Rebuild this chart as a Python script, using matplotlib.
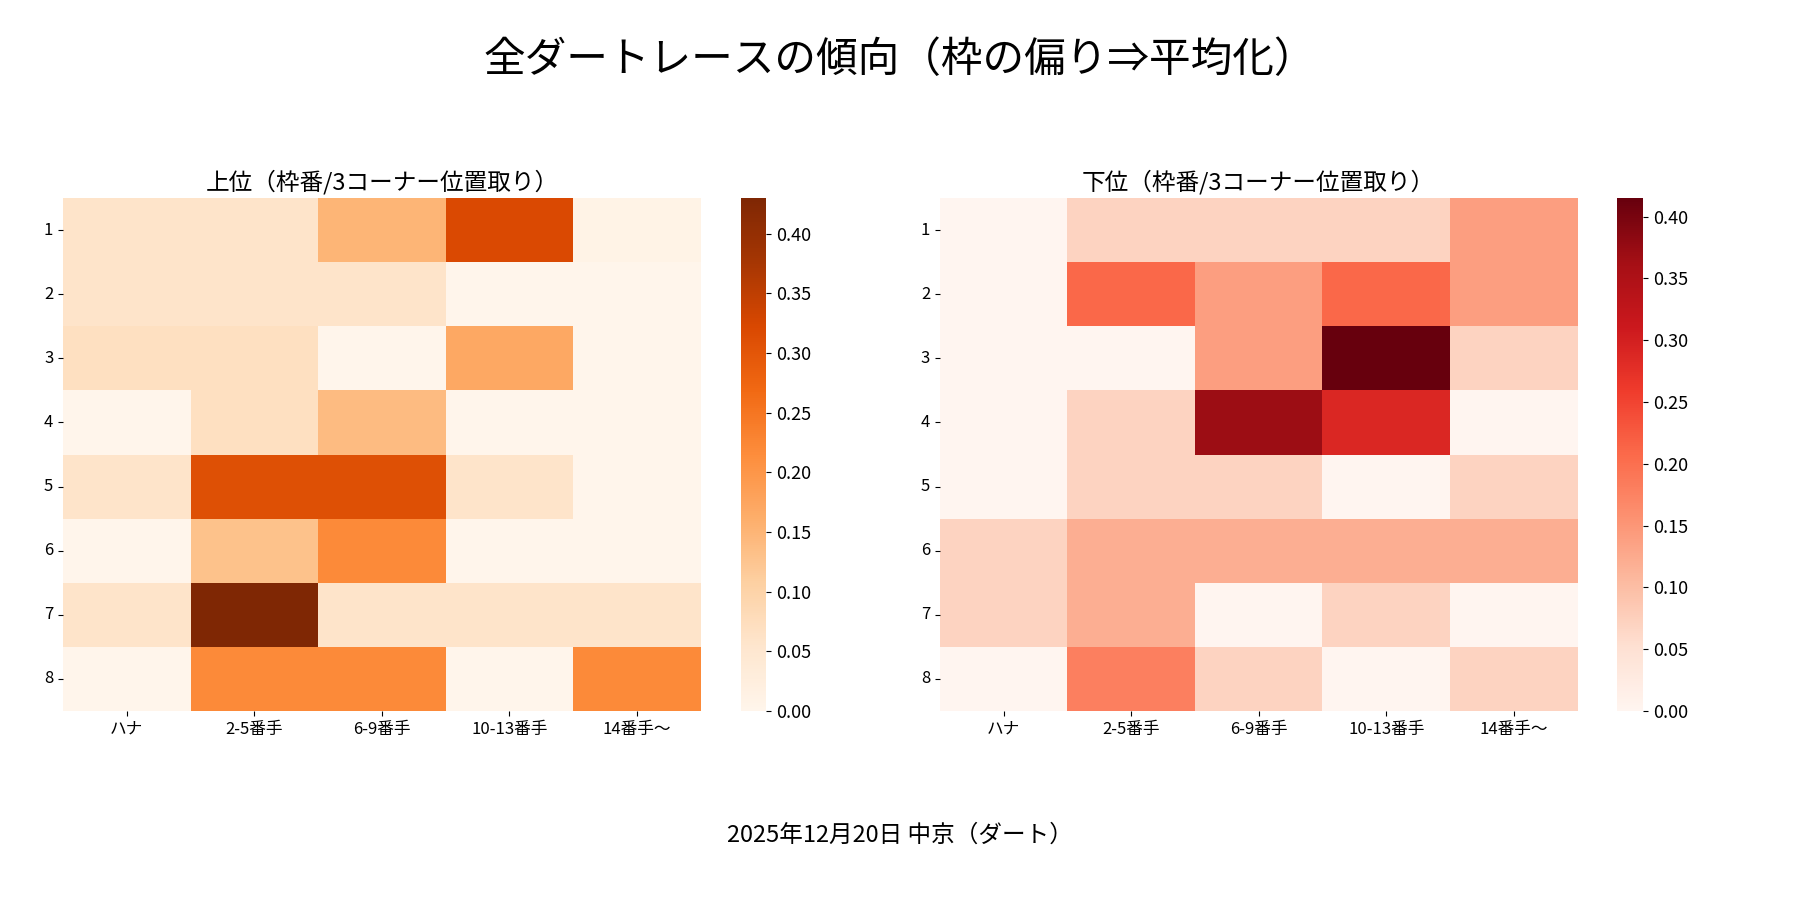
import matplotlib
matplotlib.use("Agg")
import matplotlib.pyplot as plt
import seaborn as sns
import numpy as np

plt.rcParams['font.family'] = ['Noto Sans CJK JP', 'DejaVu Sans']

cols = ["ハナ", "2-5番手", "6-9番手", "10-13番手", "14番手～"]
rows = ["1", "2", "3", "4", "5", "6", "7", "8"]
upper = [
    [0.06, 0.06, 0.15, 0.32, 0.01],
    [0.06, 0.06, 0.06, 0.00, 0.00],
    [0.07, 0.07, 0.00, 0.17, 0.00],
    [0.00, 0.07, 0.14, 0.00, 0.00],
    [0.06, 0.31, 0.31, 0.06, 0.00],
    [0.00, 0.13, 0.22, 0.00, 0.00],
    [0.06, 0.43, 0.06, 0.06, 0.06],
    [0.00, 0.22, 0.22, 0.00, 0.22],
]
lower = [
    [0.00, 0.07, 0.07, 0.07, 0.14],
    [0.00, 0.21, 0.14, 0.21, 0.14],
    [0.00, 0.00, 0.14, 0.415, 0.07],
    [0.00, 0.07, 0.37, 0.29, 0.00],
    [0.00, 0.07, 0.07, 0.00, 0.07],
    [0.07, 0.12, 0.12, 0.12, 0.12],
    [0.07, 0.12, 0.00, 0.07, 0.00],
    [0.00, 0.18, 0.07, 0.00, 0.07],
]

fig, axes = plt.subplots(1, 2, figsize=(18, 9), dpi=100)
for ax, data, cmap, title in [(axes[0], upper, "Oranges", "上位（枠番/3コーナー位置取り）"),
                              (axes[1], lower, "Reds", "下位（枠番/3コーナー位置取り）")]:
    sns.heatmap(np.array(data), ax=ax, cmap=cmap, xticklabels=cols, yticklabels=rows)
    ax.set_title(title, fontsize=17)
    ax.tick_params(labelsize=12)
    ax.set_yticklabels(rows, rotation=0)
    cb = ax.collections[0].colorbar
    cb.ax.tick_params(labelsize=13)

fig.suptitle("全ダートレースの傾向（枠の偏り⇒平均化）", fontsize=30, y=0.955)
fig.text(0.5, 0.065, "2025年12月20日 中京（ダート）", ha='center', fontsize=17)
plt.subplots_adjust(left=0.035, right=0.965, top=0.78, bottom=0.21, wspace=0.1)
fig.savefig("out.png")
